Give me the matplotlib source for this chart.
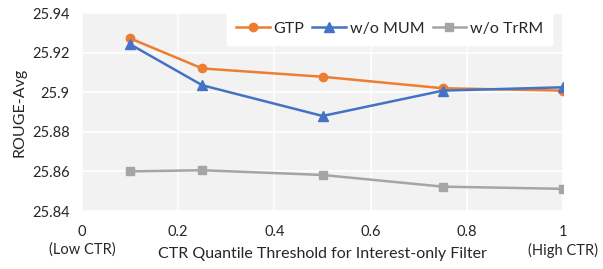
import matplotlib

matplotlib.use("Agg")
import matplotlib.pyplot as plt

plt.rcParams["font.family"] = ["Lato", "DejaVu Sans"]

thresholds = [0.1, 0.25, 0.5, 0.75, 1.0]
gtp = [25.9272, 25.9120, 25.9078, 25.9020, 25.9008]
wo_mum = [25.9242, 25.9035, 25.8880, 25.9008, 25.9025]
wo_trrm = [25.8600, 25.8606, 25.8582, 25.8523, 25.8512]

x_ticks = [0, 0.2, 0.4, 0.6, 0.8, 1.0]
x_tick_labels = ["0\n(Low CTR)", "0.2", "0.4", "0.6", "0.8", "1\n(High CTR)"]
y_ticks = [25.84, 25.86, 25.88, 25.90, 25.92, 25.94]
y_tick_labels = ["25.84", "25.86", "25.88", "25.9", "25.92", "25.94"]

fig = plt.figure(figsize=(6.03, 2.69), dpi=100)
ax = fig.add_axes([0.136, 0.2156, 0.798, 0.736])
ax.set_facecolor("#f2f2f2")

ax.plot(thresholds, gtp, color="#ed7d31", marker="o", markersize=6, linewidth=1.8, label="GTP", zorder=3)
ax.plot(thresholds, wo_mum, color="#4472c4", marker="^", markersize=6.5, linewidth=1.8, label="w/o MUM", zorder=3)
ax.plot(thresholds, wo_trrm, color="#a5a5a5", marker="s", markersize=6, linewidth=1.8, label="w/o TrRM", zorder=3)

ax.set_xlim(0, 1)
ax.set_ylim(25.84, 25.94)
ax.set_xticks(x_ticks)
ax.set_xticklabels(x_tick_labels, fontsize=10.5, color="#262626", linespacing=1.3)
ax.set_yticks(y_ticks)
ax.set_yticklabels(y_tick_labels, fontsize=10.5, color="#262626")
ax.tick_params(axis="x", length=0, pad=10)
ax.tick_params(axis="y", length=0, pad=9)
ax.grid(True, color="white", linewidth=1.2)
ax.set_axisbelow(True)
for s in ax.spines.values():
    s.set_visible(False)

ax.set_xlabel("CTR Quantile Threshold for Interest-only Filter", fontsize=11.5, color="#262626")
ax.xaxis.set_label_coords(0.5, -0.215)
ax.xaxis.label.set_va("center")
ax.set_ylabel("ROUGE-Avg", fontsize=11.5, color="#262626")
ax.yaxis.set_label_coords(-0.129, 0.5)
ax.yaxis.label.set_va("center")

leg = ax.legend(loc="upper right", bbox_to_anchor=(0.977, 1.0), ncol=3, fontsize=11.5, frameon=True,
                fancybox=False, framealpha=1, edgecolor="white", handlelength=2.1, handletextpad=0.25,
                columnspacing=0.5, borderpad=0.55, borderaxespad=0)
for t in leg.get_texts():
    t.set_color("#262626")

fig.savefig("out.png", dpi=100)
